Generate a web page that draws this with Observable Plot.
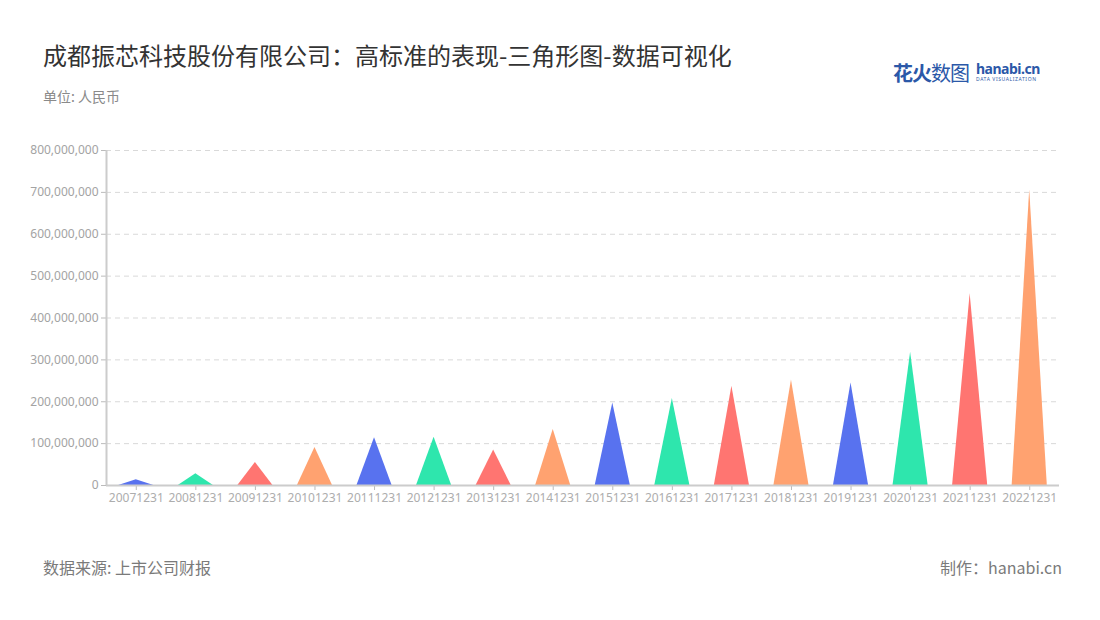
<!DOCTYPE html>
<html>
<head>
<meta charset="utf-8">
<script src="https://cdn.jsdelivr.net/npm/d3@7"></script>
<script src="https://cdn.jsdelivr.net/npm/@observablehq/plot@0.6"></script>
<style>
  html, body { margin: 0; padding: 0; background: #fff; }
  body { width: 1100px; height: 620px; position: relative; overflow: hidden; font-family: "Noto Sans", "Noto Sans CJK SC", sans-serif; }
  .abs { position: absolute; white-space: nowrap; }
  #title { left: 43px; top: 37px; font-size: 24px; color: #333; font-family: "Noto Sans CJK SC", "Noto Sans", sans-serif; }
  #unit { left: 43px; top: 86px; font-size: 14px; color: #8a8a8a; font-family: "Noto Sans CJK SC", sans-serif; }
  #source { left: 43px; top: 555px; font-size: 16px; color: #7a7a7a; font-family: "Noto Sans CJK SC", sans-serif; }
  #maker { right: 38px; top: 555px; font-size: 16px; color: #7a7a7a; font-family: "Noto Sans CJK SC", sans-serif; }
  #logo { left: 893px; top: 58px; }
  #logo .cn { font-size: 20px; font-weight: 700; color: #2b58a8; font-family: "Noto Sans CJK SC", sans-serif; letter-spacing: -1px; }
  #logo .cn .lt { font-weight: 400; }
  #logo .en { position: absolute; left: 83px; top: 1px; font-size: 14px; font-weight: 700; color: #2b58a8; font-family: "Noto Sans", sans-serif; letter-spacing: -0.5px; }
  #logo .sub { position: absolute; left: 83px; top: 18px; font-size: 5px; color: #2b58a8; font-family: "Noto Sans", sans-serif; letter-spacing: 0.6px; }
  #chart { position: absolute; left: 0; top: 140px; }
</style>
</head>
<body>
<div id="title" class="abs">成都振芯科技股份有限公司：高标准的表现-三角形图-数据可视化</div>
<div id="unit" class="abs">单位: 人民币</div>
<div id="logo" class="abs"><span class="cn">花火<span class="lt">数图</span></span><span class="en">hanabi.cn</span><span class="sub">DATA VISUALIZATION</span></div>
<div id="chart"></div>
<div id="source" class="abs">数据来源: 上市公司财报</div>
<div id="maker" class="abs">制作：hanabi.cn</div>
<script>
const categories = ["20071231","20081231","20091231","20101231","20111231","20121231","20131231","20141231","20151231","20161231","20171231","20181231","20191231","20201231","20211231","20221231"];
const values = [14000000, 28000000, 55000000, 91000000, 114000000, 115000000, 85000000, 134000000, 197000000, 208000000, 237000000, 252000000, 245000000, 318000000, 458000000, 706000000];
const palette = ["#5872ef", "#2ee6ad", "#ff7571", "#ffa270"];
const yTicks = [0, 100000000, 200000000, 300000000, 400000000, 500000000, 600000000, 700000000, 800000000];

const halfWidth = 0.295;
const pts = [];
categories.forEach((c, i) => {
  const color = palette[i % palette.length];
  pts.push({cat: c, x: i - halfWidth, y: 0, color});
  pts.push({cat: c, x: i, y: values[i], color});
  pts.push({cat: c, x: i + halfWidth, y: 0, color});
});

const chart = Plot.plot({
  width: 1100,
  height: 375,
  marginLeft: 106,
  marginRight: 41,
  marginTop: 10,
  marginBottom: 30,
  style: {fontFamily: "'Noto Sans', sans-serif", fontSize: "12px", color: "#a8a8a8", background: "transparent"},
  x: {domain: [-0.5, categories.length - 0.5], label: null},
  y: {domain: [0, 800000000], label: null},
  marks: [
    Plot.gridY(yTicks.slice(1), {stroke: "#d9d9d9", strokeOpacity: 1, strokeDasharray: "5,4"}),
    Plot.areaY(pts, {x: "x", y: "y", z: "cat", fill: "color", fillOpacity: 1, curve: "linear"}),
    Plot.axisX({ticks: d3.range(categories.length), tickFormat: i => categories[i], tickSize: 5, tickPadding: 3, stroke: "#bbb", fill: "#adadad", label: null}),
    Plot.axisY({ticks: yTicks, tickFormat: d3.format(","), tickSize: 5, tickPadding: 3, stroke: "#bbb", fill: "#a3a3a3", label: null}),
    Plot.ruleY([0], {stroke: "#cccccc", strokeWidth: 2}),
    Plot.ruleX([-0.5], {y1: 0, y2: 800000000, stroke: "#cccccc", strokeWidth: 2})
  ]
});
document.getElementById("chart").appendChild(chart);
</script>
</body>
</html>
